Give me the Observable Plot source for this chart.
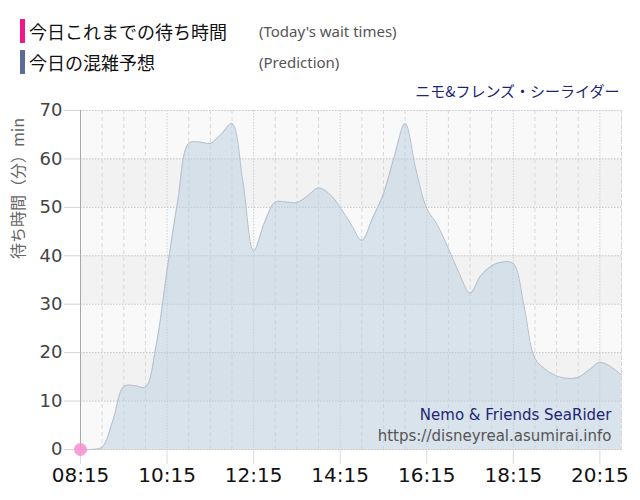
<!DOCTYPE html>
<html><head><meta charset="utf-8">
<script src="https://cdn.jsdelivr.net/npm/d3@7"></script>
<script src="https://cdn.jsdelivr.net/npm/@observablehq/plot@0.6"></script>
<style>
body{margin:0;background:#fff;font-family:"DejaVu Sans","Noto Sans CJK JP",sans-serif;}
#legend{position:relative;height:80px;width:640px;}
.bar{position:absolute;left:20px;width:5px;height:24px;}
.jp{position:absolute;left:29px;font-family:"Noto Sans CJK JP",sans-serif;font-size:18px;line-height:24px;color:#111;white-space:nowrap}
.en{position:absolute;left:259px;font-family:"Noto Sans","DejaVu Sans",sans-serif;font-size:15px;line-height:24px;color:#555;white-space:nowrap}
#chart svg{display:block}
</style></head>
<body>
<div id="legend"></div>
<div id="chart"></div>
<script>
// ---- data ----
const times = ["08:15","08:30","08:45","09:00","09:15","09:30","09:45","10:00","10:15","10:30",
  "10:45","11:00","11:15","11:30","11:45","12:00","12:15","12:30","12:45","13:00",
  "13:15","13:30","13:45","14:00","14:15","14:30","14:45","15:00","15:15","15:30",
  "15:45","16:00","16:15","16:30","16:45","17:00","17:15","17:30","17:45","18:00",
  "18:15","18:30","18:45","19:00","19:15","19:30","19:45","20:00","20:15","20:30","20:45"];
const predicted = [0,0,0.5,6,13,13.2,12.9,21.6,37,51.5,
  63.2,63.5,63.2,65.1,67.3,55.5,41,46.8,51.1,51.1,
  51,52.4,54,52.8,50,46.5,43.2,47.8,52.8,60.5,
  67.3,57.8,49.8,46.3,41.5,36.4,32.3,35.9,37.9,38.7,
  38.4,29.5,18.8,16.5,15.2,14.7,14.9,16.4,18,17.1,15.4];
const todayTimes = ["08:15"];
const todayWaits = [0];
const xTickLabels = ["08:15","10:15","12:15","14:15","16:15","18:15","20:15"];
const yTicks = [0,10,20,30,40,50,60,70];
const darkBands = [10,30,50];
const xDomain = ["08:15","20:45"];
const legendItems = [
  {ja:"今日これまでの待ち時間", en:"(Today's wait times)", color:"#f0168c"},
  {ja:"今日の混雑予想", en:"(Prediction)", color:"#5b6a9a"}
];
const titleJa = "ニモ&フレンズ・シーライダー";
const nameEn = "Nemo & Friends SeaRider";
const siteUrl = "https://disneyreal.asumirai.info";
const yLabel = "待ち時間（分）min";

// ---- legend ----
const lg = document.getElementById("legend");
legendItems.forEach((it, i) => {
  const top = 19 + i * 31;
  lg.insertAdjacentHTML("beforeend",
    `<div class="bar" style="top:${top}px;background:${it.color}"></div>` +
    `<div class="jp" style="top:${top}px">${it.ja}</div>` +
    `<div class="en" style="top:${top}px">${it.en}</div>`);
});

// ---- chart ----
const parse = s => { const [h, m] = s.split(":").map(Number); return new Date(Date.UTC(2024, 0, 1, h, m)); };
const data = times.map((t, i) => ({time: parse(t), wait: predicted[i]}));
const today = todayTimes.map((t, i) => ({time: parse(t), wait: todayWaits[i]}));
const x0 = parse(xDomain[0]), x1 = parse(xDomain[1]);
const tickDates = xTickLabels.map(parse);
const tickSet = new Set(xTickLabels);
const gridDates = times.filter((t, i) => i % 2 === 0 && !tickSet.has(t)).map(parse);

const chart = Plot.plot({
  width: 640,
  height: 420,
  marginLeft: 80,
  marginRight: 19,
  marginTop: 30,
  marginBottom: 51,
  style: {fontFamily: "'DejaVu Sans','Noto Sans CJK JP',sans-serif", background: "transparent"},
  x: {type: "utc", domain: [x0, x1]},
  y: {domain: [0, 70]},
  marks: [
    Plot.frame({fill: "#f9f9f9", stroke: null}),
    Plot.rect(darkBands, {x1: () => x0, x2: () => x1, y1: d => d, y2: d => d + 10, fill: "#f2f2f2"}),
    Plot.ruleX(gridDates, {stroke: "#d9d9d9", strokeDasharray: "4,3"}),
    Plot.ruleX(tickDates, {stroke: "#c9d0da", strokeDasharray: "1.5,1.5"}),
    Plot.ruleY(yTicks, {stroke: "#c4c4c4", strokeDasharray: "1.5,1.5"}),
    Plot.frame({stroke: "#d6d6d6", strokeDasharray: "1.5,1.5"}),
    Plot.areaY(data, {x: "time", y: "wait", curve: "catmull-rom", fill: "#b9cde0", fillOpacity: 0.5}),
    Plot.lineY(data, {x: "time", y: "wait", curve: "catmull-rom", stroke: "#b3bfcb", strokeWidth: 1}),
    Plot.ruleX([x0], {stroke: "#a8a8a8", strokeWidth: 1}),
    Plot.axisY({ticks: yTicks, tickSize: 16, tickPadding: 2, stroke: "#d4d4d4", fill: "#444", fontSize: 18, label: null}),
    Plot.axisX({ticks: tickDates, tickFormat: d3.utcFormat("%H:%M"), tickSize: 15, tickPadding: 3, stroke: "#dcdcdc", fill: "#111", fontSize: 20, label: null}),
    Plot.dot(today, {x: "time", y: "wait", r: 6.5, fill: "#f58fcc", fillOpacity: 0.85, stroke: null}),
    Plot.text([titleJa], {text: d => d, frameAnchor: "top-right", lineAnchor: "middle", dx: -2, dy: -18, fill: "#1d2575", fontSize: 15, fontFamily: "'Noto Sans CJK JP',sans-serif"}),
    Plot.text([nameEn], {text: d => d, frameAnchor: "bottom-right", lineAnchor: "middle", dx: -10, dy: -34, fill: "#1d2575", fontSize: 15}),
    Plot.text([siteUrl], {text: d => d, frameAnchor: "bottom-right", lineAnchor: "middle", dx: -10, dy: -13, fill: "#555", fontSize: 15}),
    Plot.text([yLabel], {text: d => d, frameAnchor: "left", rotate: -90, dx: -62, dy: -21, fill: "#666", fontSize: 16, fontFamily: "'Noto Sans CJK JP',sans-serif"})
  ]
});
document.getElementById("chart").appendChild(chart);
</script>
</body></html>
